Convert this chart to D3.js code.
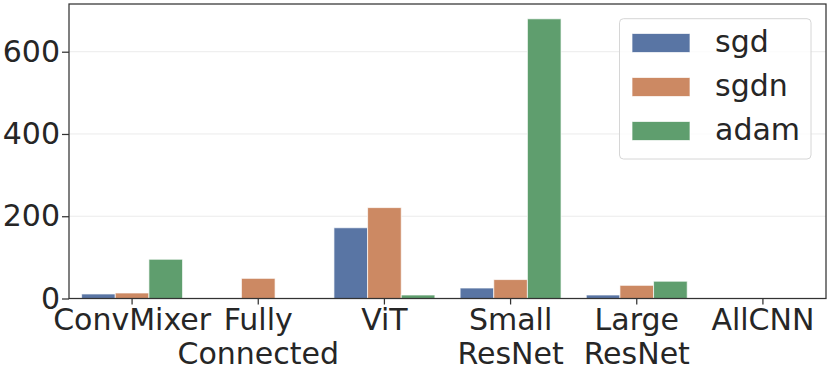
<!DOCTYPE html>
<html><head><meta charset="utf-8">
<script src="https://cdn.jsdelivr.net/npm/d3@7"></script>
<style>
body{margin:0;background:#fff;}
svg{display:block;font-family:"DejaVu Sans",sans-serif;}
svg text{font-family:"DejaVu Sans",sans-serif !important;}
</style></head>
<body><svg id="c" width="830" height="374"></svg>
<script>
const categories = ["ConvMixer", "Fully\nConnected", "ViT", "Small\nResNet", "Large\nResNet", "AllCNN"];
const seriesNames = ["sgd", "sgdn", "adam"];
const sgd  = [11, null, 172, 25.5, 8.5, null];
const sgdn = [13.4, 49, 221, 46, 32, null];
const adam = [95.4, null, 8.5, 680, 42, null];
const yTicks = [0, 200, 400, 600];
const colors = ["#5975a4", "#cc8963", "#5f9e6e"];

const seriesValues = [sgd, sgdn, adam];
const svg = d3.select("#c");
const L = 69, R = 826, T = 4, B = 298.5;
const fs = 30;
const textColor = "#262626";

const x = d3.scaleBand().domain(categories).range([L, R]).paddingInner(0.2).paddingOuter(0.1);
const xs = d3.scaleBand().domain(seriesNames).range([0, x.bandwidth()]).padding(0);
const y = d3.scaleLinear().domain([0, 716]).range([B, T]);

// grid
svg.append("g").selectAll("line").data(yTicks).join("line")
  .attr("x1", L).attr("x2", R).attr("y1", d => y(d)).attr("y2", d => y(d))
  .attr("stroke", "#ebebeb").attr("stroke-width", 1);

// bars
const rows = [];
categories.forEach((c, i) => seriesNames.forEach((s, j) => {
  const v = seriesValues[j][i];
  if (v != null) rows.push({c, s, v, j});
}));
svg.append("g").selectAll("rect").data(rows).join("rect")
  .attr("x", d => x(d.c) + xs(d.s))
  .attr("width", xs.bandwidth())
  .attr("y", d => y(d.v))
  .attr("height", d => y(0) - y(d.v))
  .attr("fill", d => colors[d.j])
  .attr("stroke", "#ffffff").attr("stroke-opacity", 0.7).attr("stroke-width", 1);

// y axis
const ya = svg.append("g").attr("transform", `translate(${L},0)`)
  .call(d3.axisLeft(y).tickValues(yTicks).tickSize(7).tickPadding(2).tickFormat(d3.format("d")));
ya.attr("font-family", null).attr("font-size", null);
ya.select(".domain").remove();
ya.selectAll(".tick line").attr("stroke", "#333").attr("stroke-width", 1.25);
ya.selectAll(".tick text").attr("fill", textColor).style("font-size", fs + "px");

// x axis
const xa = svg.append("g").attr("transform", `translate(0,${B})`)
  .call(d3.axisBottom(x).tickSize(6).tickPadding(4).tickFormat(""));
xa.attr("font-family", null).attr("font-size", null);
xa.select(".domain").remove();
xa.selectAll(".tick line").attr("stroke", "#333").attr("stroke-width", 1.25);
xa.selectAll(".tick text").remove();
xa.selectAll(".tick").append("text")
  .attr("fill", textColor).style("font-size", fs + "px").attr("text-anchor", "middle")
  .each(function(d) {
    const lines = d.split("\n");
    d3.select(this).selectAll("tspan").data(lines).join("tspan")
      .attr("x", 0).attr("y", (l, k) => 31.5 + k * 34).text(l => l);
  });

// frame
svg.append("rect").attr("x", L).attr("y", T).attr("width", R - L).attr("height", B - T)
  .attr("fill", "none").attr("stroke", "#333").attr("stroke-width", 1.25);

// legend
const lg = svg.append("g");
lg.append("rect").attr("x", 619.5).attr("y", 18.7).attr("width", 191.5).attr("height", 140.3)
  .attr("rx", 4).attr("fill", "#fff").attr("fill-opacity", 0.8).attr("stroke", "#d6d6d6").attr("stroke-width", 1);
const li = lg.selectAll("g").data(seriesNames).join("g")
  .attr("transform", (d, i) => `translate(0,${33.5 + i * 44})`);
li.append("rect").attr("x", 632).attr("y", 0).attr("width", 58).attr("height", 19)
  .attr("fill", (d, i) => colors[i]).attr("stroke", "#fff").attr("stroke-opacity", 0.7);
li.append("text").attr("x", 715).attr("y", 18.5).attr("fill", textColor)
  .style("font-size", fs + "px").text(d => d);
</script></body></html>
